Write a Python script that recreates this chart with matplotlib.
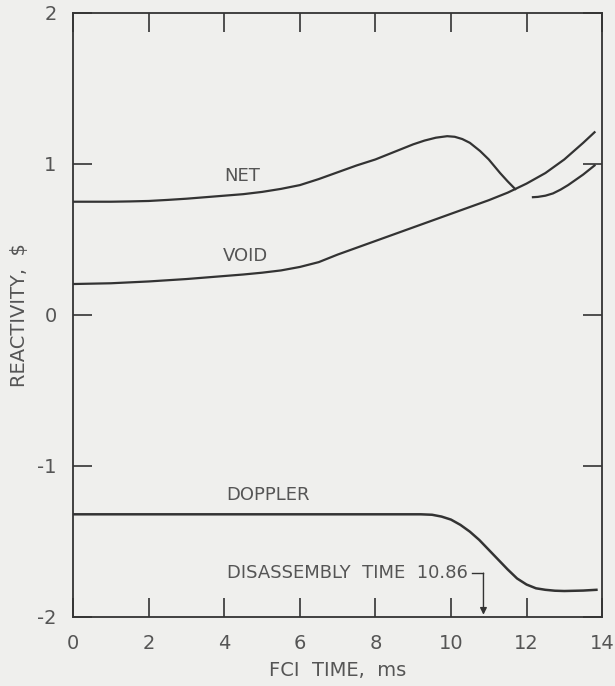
import numpy as np
import matplotlib.pyplot as plt

# reactivity components vs FCI time (ms), in dollars
t_void = [0.0, 1.0, 2.0, 3.0, 4.0, 4.5, 5.0, 5.5, 6.0, 6.5, 7.0, 7.5, 8.0,
          8.5, 9.0, 9.5, 10.0, 10.5, 11.0, 11.5, 11.7, 12.0, 12.5, 13.0,
          13.5, 13.8]
void = [0.205, 0.21, 0.222, 0.238, 0.258, 0.268, 0.28, 0.295, 0.318, 0.35,
        0.40, 0.445, 0.49, 0.535, 0.58, 0.625, 0.67, 0.715, 0.76, 0.81,
        0.834, 0.87, 0.94, 1.03, 1.14, 1.21]

t_net = [0.0, 0.5, 1.0, 1.5, 2.0, 2.5, 3.0, 3.5, 4.0, 4.5, 5.0, 5.5, 6.0,
         6.5, 7.0, 7.5, 8.0, 8.5, 9.0, 9.3, 9.6, 9.9, 10.1, 10.3, 10.5,
         10.77, 11.0, 11.3, 11.5, 11.7,
         11.95,
         12.17, 12.3, 12.5, 12.7, 12.9, 13.1, 13.3, 13.5, 13.8]
net = [0.75, 0.75, 0.75, 0.752, 0.755, 0.762, 0.77, 0.78, 0.79, 0.80, 0.815,
       0.835, 0.86, 0.90, 0.945, 0.99, 1.03, 1.08, 1.13, 1.155, 1.174, 1.184,
       1.18, 1.165, 1.14, 1.086, 1.03, 0.94, 0.885, 0.834,
       np.nan,
       0.78, 0.782, 0.79, 0.805, 0.83, 0.86, 0.895, 0.93, 0.99]

t_doppler = [0.0, 2.0, 4.0, 6.0, 8.0, 9.2, 9.5, 9.75, 10.0, 10.25, 10.5,
             10.75, 11.0, 11.25, 11.5, 11.75, 12.0, 12.25, 12.5, 12.75, 13.0,
             13.5, 13.85]
doppler = [-1.32, -1.32, -1.32, -1.32, -1.32, -1.32, -1.323, -1.335, -1.355,
           -1.39, -1.435, -1.49, -1.555, -1.62, -1.685, -1.745, -1.785, -1.81,
           -1.82, -1.826, -1.828, -1.825, -1.82]

disassembly_time = 10.86

x_ticks = [0, 2, 4, 6, 8, 10, 12, 14]
y_ticks = [-2, -1, 0, 1, 2]

plt.rcParams['font.family'] = ['DejaVu Sans']
plt.rcParams['axes.unicode_minus'] = False

bg = '#efefed'
ink = '#333333'
txt = '#555555'

fig = plt.figure(figsize=(6.15, 6.86), dpi=100, facecolor=bg)
ax = fig.add_axes([0.119, 0.1006, 0.860, 0.8805])
ax.set_facecolor(bg)

ax.plot(t_net, net, color=ink, lw=1.6)
ax.plot(t_void, void, color=ink, lw=1.6)
ax.plot(t_doppler, doppler, color=ink, lw=1.8)

ax.text(4.47, 0.92, 'NET', color=txt, fontsize=13, ha='center', va='center')
ax.text(4.55, 0.39, 'VOID', color=txt, fontsize=13, ha='center', va='center')
ax.text(5.16, -1.19, 'DOPPLER', color=txt, fontsize=13, ha='center',
        va='center')

# disassembly marker: label, leader and arrow down to the axis
ax.text(10.45, -1.71, 'DISASSEMBLY  TIME  10.86', color=txt, fontsize=13,
        ha='right', va='center')
ax.plot([10.55, disassembly_time], [-1.71, -1.71], color=ink, lw=1.0)
ax.annotate('', xy=(disassembly_time, -1.985),
            xytext=(disassembly_time, -1.71),
            arrowprops=dict(arrowstyle='-|>', color=ink, lw=1.0,
                            mutation_scale=10, shrinkA=0, shrinkB=0))

ax.set_xlim(0, 14)
ax.set_ylim(-2, 2)
ax.set_xticks(x_ticks)
ax.set_yticks(y_ticks)
ax.tick_params(direction='in', length=14, width=1.2, color=ink,
               labelcolor=txt, labelsize=14, pad=12,
               top=True, right=True)
for s in ax.spines.values():
    s.set_color(ink)
    s.set_linewidth(1.3)

ax.set_xlabel('FCI  TIME,  ms', color=txt, fontsize=14, labelpad=6)
ax.set_ylabel('REACTIVITY,  $', color=txt, fontsize=14, labelpad=6)

fig.savefig('out.png', dpi=100, facecolor=bg)
